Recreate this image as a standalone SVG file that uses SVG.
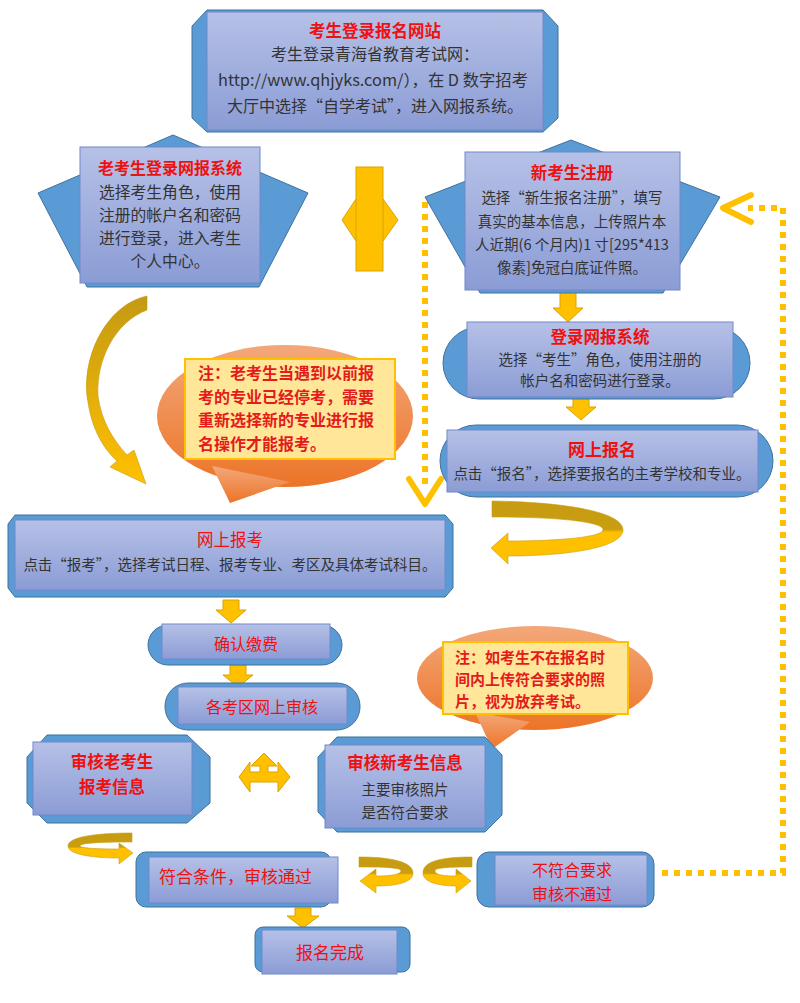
<svg xmlns="http://www.w3.org/2000/svg" width="800" height="1003" viewBox="0 0 800 1003">
<defs>
<linearGradient id="fr" x1="0" y1="0" x2="0" y2="1"><stop offset="0" stop-color="#b6c1e7"/><stop offset="1" stop-color="#8b9cd5"/></linearGradient>
<linearGradient id="org" x1="0" y1="0" x2="0" y2="1"><stop offset="0" stop-color="#f3a87a"/><stop offset="1" stop-color="#ec7428"/></linearGradient>
<linearGradient id="rib" x1="0" y1="0" x2="0" y2="1"><stop offset="0" stop-color="#c79b12"/><stop offset="0.45" stop-color="#c99e10"/><stop offset="0.5" stop-color="#ffc000"/><stop offset="1" stop-color="#ffc000"/></linearGradient>
<linearGradient id="ribv" x1="0" y1="0" x2="0" y2="1"><stop offset="0" stop-color="#c49a14"/><stop offset="1" stop-color="#ffc000"/></linearGradient>
<style>
.bk{fill:#5b9bd5;stroke:#41719c;stroke-width:1}
.fr{fill:url(#fr);stroke:#7088cc;stroke-width:1}
.ya{fill:#ffc000;stroke:#d9a400;stroke-width:1}
.rb{fill:url(#rib);stroke:#c99e10;stroke-width:0.6}
.dot{fill:none;stroke:#ffc000;stroke-width:6;stroke-dasharray:6 6}
.chev{fill:none;stroke:#ffc000;stroke-width:6;stroke-linecap:round;stroke-linejoin:round}
.co{fill:url(#org)}
.ci{fill:#ffe699;stroke:#ffc000;stroke-width:2}
text{font-family:"Noto Sans CJK SC","Liberation Sans",sans-serif}
.t{fill:#ee1111;font-weight:bold;text-anchor:middle}
.r{fill:#ee1111;text-anchor:middle}
.b{fill:#333333;text-anchor:middle}
.n{fill:#e31b1b;font-weight:bold}
</style>
</defs>

<g id="connectors">
<polyline class="dot" points="425,202 425,486"/>
<polyline class="chev" points="409,479 425,504 441,479"/>
<polyline class="dot" points="662,873 783,873 783,208 748,208"/>
<polyline class="chev" points="751,195 723,208 751,222"/>
<g id="arrow-double">
<polygon class="ya" points="342,220 356,199 383,199 398,220 383,241 356,241"/>
<rect class="ya" x="356" y="167" width="27" height="104"/>
</g>
<polygon class="ya" points="560,292 576,292 576,308 583,308 568,322 553,308 560,308"/>
<polygon class="ya" points="573,398 589,398 589,407 596,407 581,420 566,407 573,407"/>
<polygon class="ya" points="223,600 239,600 239,610 246,610 231,623 216,610 223,610"/>
<polygon class="ya" points="230,665 246,665 246,675 253,675 238,687 223,675 230,675"/>
<polygon class="ya" points="295,908 311,908 311,916 319,916 303,928 287,916 295,916"/>
<polygon class="ya" points="264,753 277,766 268,766 268,772 278,772 278,762 290,777 278,792 278,782 250,782 250,792 239,777 250,762 250,772 260,772 260,766 251,766"/>
<path fill="url(#ribv)" stroke="#c49a14" stroke-width="0.6" d="M147,296 C105,305 80,360 88,402 C92,430 104,449 117,461 L110,467 L146,484 L134,450 L127,455 C113,440 101,420 98,396 C96,360 115,322 147,310 Z"/>
<path class="rb" d="M492,501 C565,502 623,512 623,530 C623,547 570,556 508,556 L508,564 L491,548 L508,533 L508,541 C560,541 602,537 603,530 C604,522 560,517 492,517 Z"/>
<path class="rb" d="M132,833 C95,833 68,837 68,846 C68,855 95,858 119,858 L119,864 L133,853 L119,843 L119,849 C95,849 80,848 80,846 C80,843 100,842 132,842 Z"/>
<path class="rb" d="M359,857 C395,857 413,863 413,873 C413,882 398,886 376,886 L376,893 L360,881 L376,869 L376,876 C392,876 401,874 401,871 C401,868 390,867 359,867 Z"/>
<path class="rb" d="M472,857 C436,857 423,863 423,873 C423,882 438,886 456,886 L456,893 L471,881 L456,869 L456,876 C441,876 435,874 435,871 C435,868 444,867 472,867 Z"/>
</g>

<g id="n-site">
<polygon class="bk" points="207,10 543,10 558,26 558,118 543,132 207,132 192,118 192,26"/>
<rect class="fr" x="207" y="12" width="336" height="118"/>
<text class="t" x="375" y="37" font-size="16.5">考生登录报名网站</text>
<text class="b" x="375" y="60" font-size="16">考生登录青海省教育考试网：</text>
<text class="b" x="373" y="86" font-size="16" textLength="310" lengthAdjust="spacingAndGlyphs">http://www.qhjyks.com/），在 D 数字招考</text>
<text class="b" x="375" y="112" font-size="16">大厅中选择“自学考试”，进入网报系统。</text>
</g>

<g id="n-old">
<polygon class="bk" points="173,135 308,193 259,287 87,287 38,193"/>
<rect class="fr" x="80" y="147" width="180" height="136"/>
<text class="t" x="170" y="174" font-size="16">老考生登录网报系统</text>
<text class="b" x="170" y="198" font-size="15.8">选择考生角色，使用</text>
<text class="b" x="170" y="221" font-size="15.8">注册的帐户名和密码</text>
<text class="b" x="170" y="244" font-size="15.8">进行登录，进入考生</text>
<text class="b" x="170" y="267" font-size="15.8">个人中心。</text>
</g>

<g id="n-new">
<polygon class="bk" points="571,140 720,197 663,293 480,293 425,197"/>
<rect class="fr" x="465" y="152" width="215" height="138"/>
<text class="t" x="572" y="179" font-size="16.5">新考生注册</text>
<text class="b" x="572" y="203" font-size="14.5">选择“新生报名注册”，填写</text>
<text class="b" x="572" y="227" font-size="14.5">真实的基本信息，上传照片本</text>
<text class="b" x="572" y="250" font-size="14.5">人近期(6 个月内)1 寸[295*413</text>
<text class="b" x="572" y="273" font-size="14.5">像素]免冠白底证件照。</text>
</g>

<g id="n-login">
<rect class="bk" x="443" y="327" width="307" height="72" rx="36"/>
<rect class="fr" x="467" y="322" width="266" height="75"/>
<text class="t" x="600" y="343" font-size="16.5">登录网报系统</text>
<text class="b" x="600" y="364.5" font-size="14.5">选择“考生”角色，使用注册的</text>
<text class="b" x="600" y="386" font-size="14.5">帐户名和密码进行登录。</text>
</g>

<g id="n-wsbm">
<rect class="bk" x="440" y="425" width="333" height="72" rx="36"/>
<rect class="fr" x="447" y="430" width="311" height="62"/>
<text class="t" x="602" y="456" font-size="17">网上报名</text>
<text class="b" x="602" y="479" font-size="14.5">点击“报名”，选择要报名的主考学校和专业。</text>
</g>

<g id="note-old">
<ellipse class="co" cx="285" cy="416" rx="128" ry="71"/>
<polygon class="co" points="212,466 290,482 230,503"/>
<rect class="ci" x="185" y="359" width="210" height="100"/>
<text class="n" x="198" y="379" font-size="16">注：老考生当遇到以前报</text>
<text class="n" x="198" y="402.5" font-size="16">考的专业已经停考，需要</text>
<text class="n" x="198" y="426" font-size="16">重新选择新的专业进行报</text>
<text class="n" x="198" y="449.5" font-size="16">名操作才能报考。</text>
</g>

<g id="n-wsbk">
<polygon class="bk" points="15,515 445,515 453,524 453,588 445,597 15,597 8,588 8,524"/>
<rect class="fr" x="15" y="520" width="430" height="70"/>
<text class="r" x="230" y="546" font-size="16.5">网上报考</text>
<text class="b" x="230" y="570" font-size="14.5">点击“报考”，选择考试日程、报考专业、考区及具体考试科目。</text>
</g>

<g id="n-pay">
<rect class="bk" x="148" y="625" width="194" height="40" rx="20"/>
<rect class="fr" x="162" y="624" width="168" height="35"/>
<text class="r" x="246" y="650" font-size="16">确认缴费</text>
</g>

<g id="n-audit">
<rect class="bk" x="165" y="683" width="195" height="47" rx="23"/>
<rect class="fr" x="178" y="687" width="169" height="37"/>
<text class="r" x="262" y="713" font-size="16">各考区网上审核</text>
</g>

<g id="note-new">
<ellipse class="co" cx="535" cy="678" rx="118" ry="52"/>
<polygon class="co" points="475,712 530,722 492,749"/>
<rect class="ci" x="443" y="642" width="185" height="72"/>
<text class="n" x="455" y="663" font-size="15">注：如考生不在报名时</text>
<text class="n" x="455" y="685" font-size="15">间内上传符合要求的照</text>
<text class="n" x="455" y="707" font-size="15">片，视为放弃考试。</text>
</g>

<g id="n-chk-old">
<polygon class="bk" points="47,735 187,735 210,757 210,803 187,823 47,823 27,803 27,757"/>
<rect class="fr" x="33" y="742" width="159" height="73"/>
<text class="t" x="112" y="768" font-size="16.5">审核老考生</text>
<text class="t" x="112" y="793" font-size="16.5">报考信息</text>
</g>

<g id="n-chk-new">
<polygon class="bk" points="337,737 485,737 502,755 502,815 485,832 337,832 318,812 318,757"/>
<rect class="fr" x="325" y="745" width="160" height="83"/>
<text class="t" x="405" y="769" font-size="16.5">审核新考生信息</text>
<text class="b" x="405" y="795" font-size="14.5">主要审核照片</text>
<text class="b" x="405" y="818" font-size="14.5">是否符合要求</text>
</g>

<g id="n-pass">
<rect class="bk" x="136" y="852" width="195" height="55" rx="10"/>
<rect class="fr" x="149" y="857" width="189" height="46"/>
<text class="r" x="159" y="883" font-size="17" style="text-anchor:start">符合条件，审核通过</text>
</g>

<g id="n-fail">
<rect class="bk" x="477" y="852" width="177" height="55" rx="12"/>
<rect class="fr" x="495" y="855" width="152" height="50"/>
<text class="r" x="572" y="876" font-size="16">不符合要求</text>
<text class="r" x="572" y="900" font-size="16">审核不通过</text>
</g>

<g id="n-done">
<rect class="bk" x="255" y="927" width="155" height="45" rx="8"/>
<rect class="fr" x="262" y="930" width="135" height="44"/>
<text class="r" x="330" y="959" font-size="17">报名完成</text>
</g>
</svg>
